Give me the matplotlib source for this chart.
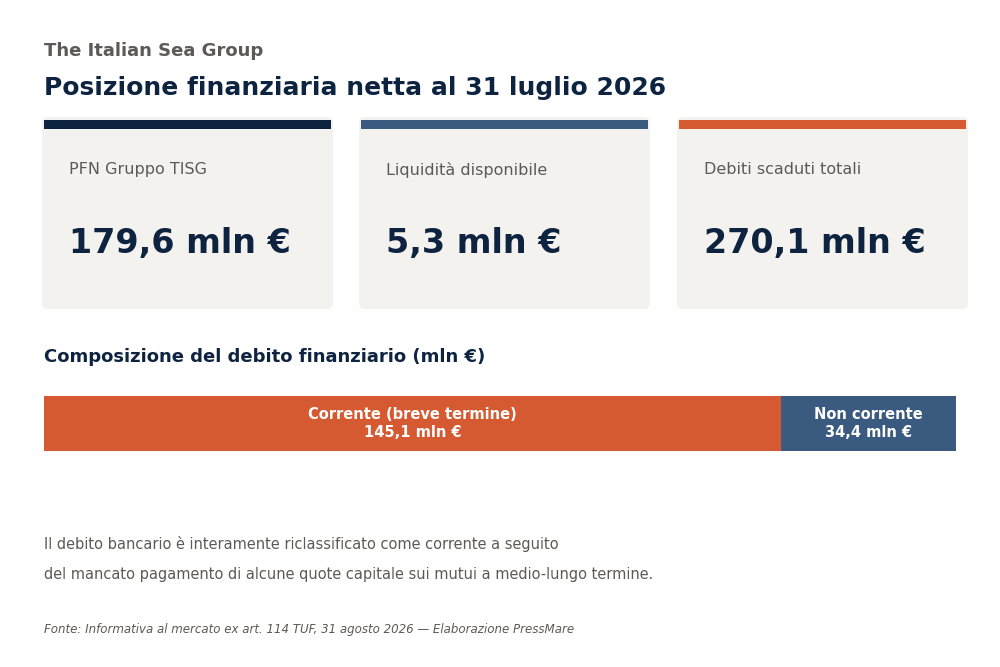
import matplotlib
matplotlib.use("Agg")
import matplotlib.pyplot as plt
from matplotlib.patches import FancyBboxPatch, Rectangle

# ---- data ----
subtitle = "The Italian Sea Group"
title = "Posizione finanziaria netta al 31 luglio 2026"
card_labels = ["PFN Gruppo TISG", "Liquidità disponibile", "Debiti scaduti totali"]
card_values = ["179,6 mln €", "5,3 mln €", "270,1 mln €"]
card_colors = ["#0d2340", "#3b5a80", "#d65a31"]
section_title = "Composizione del debito finanziario (mln €)"
debt_names = ["Corrente (breve termine)", "Non corrente"]
debt_values = [145.1, 34.4]
debt_colors = ["#d65a31", "#3b5a80"]
note_lines = [
    "Il debito bancario è interamente riclassificato come corrente a seguito",
    "del mancato pagamento di alcune quote capitale sui mutui a medio-lungo termine.",
]
source = "Fonte: Informativa al mercato ex art. 114 TUF, 31 agosto 2026 — Elaborazione PressMare"

W, H = 1000, 667
fig = plt.figure(figsize=(W / 100, H / 100), dpi=100)
fig.patch.set_facecolor("white")

# background axes in pixel coordinates
bg = fig.add_axes([0, 0, 1, 1])
bg.set_xlim(0, W)
bg.set_ylim(H, 0)
bg.axis("off")

NAVY = "#0d2340"
GREY = "#5c5a57"

bg.text(44, 51, subtitle, fontsize=13, fontweight="bold", color=GREY,
        ha="left", va="center", family="DejaVu Sans")
bg.text(44, 88, title, fontsize=18, fontweight="bold", color=NAVY,
        ha="left", va="center", family="DejaVu Sans")

card_x = [42, 359, 677]
card_w = 291
for x0, lab, val, col in zip(card_x, card_labels, card_values, card_colors):
    bg.add_patch(FancyBboxPatch((x0 + 6, 117 + 6), card_w - 12, 192 - 12,
                                boxstyle="round,pad=6", linewidth=0,
                                facecolor="#f3f2ef", zorder=1))
    bg.add_patch(Rectangle((x0 + 2, 120), card_w - 4, 9, facecolor=col,
                           linewidth=0, zorder=2))
    bg.text(x0 + 27, 169.5, lab, fontsize=11.5, color=GREY, ha="left",
            va="center", family="DejaVu Sans", zorder=3)
    bg.text(x0 + 27, 243, val, fontsize=24, fontweight="bold", color=NAVY,
            ha="left", va="center", family="DejaVu Sans", zorder=3)

bg.text(44, 357, section_title, fontsize=13, fontweight="bold", color=NAVY,
        ha="left", va="center", family="DejaVu Sans")

for i, line in enumerate(note_lines):
    bg.text(44, 544 + 30 * i, line, fontsize=11.7, color=GREY, ha="left",
            va="center", family="DejaVu Sans", fontstretch="condensed")
bg.text(44, 629, source, fontsize=9.45, style="italic", color=GREY,
        ha="left", va="center", family="DejaVu Sans", fontstretch="condensed")

# stacked bar
bx = fig.add_axes([44 / W, (H - 451) / H, 912 / W, 55 / H])
total = sum(debt_values)
left = 0
for name, v, c in zip(debt_names, debt_values, debt_colors):
    bx.barh([0], [v], left=left, height=1, color=c, linewidth=0)
    lbl = f"{name}\n{str(v).replace('.', ',')} mln €"
    bx.text(left + v / 2, 0, lbl, ha="center", va="center", color="white",
            fontsize=10.5, fontweight="bold", family="DejaVu Sans",
            linespacing=1.3)
    left += v
bx.set_xlim(0, total)
bx.set_ylim(-0.5, 0.5)
bx.axis("off")

fig.savefig("out.png", dpi=100, facecolor="white")
